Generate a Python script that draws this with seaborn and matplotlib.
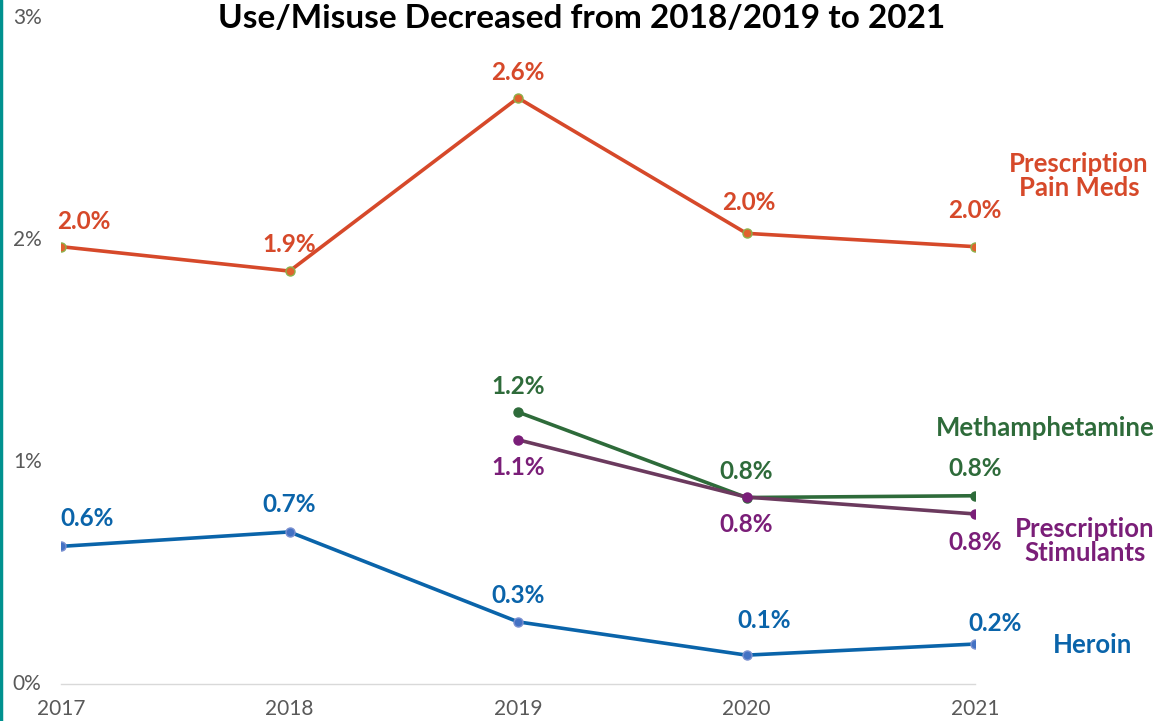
import matplotlib
matplotlib.use("Agg")
import matplotlib.pyplot as plt
import seaborn as sns
import pandas as pd
import numpy as np

years = [2017, 2018, 2019, 2020, 2021]
pain_meds = [1.97, 1.86, 2.64, 2.03, 1.97]
meth = [np.nan, np.nan, 1.225, 0.84, 0.848]
stimulants = [np.nan, np.nan, 1.10, 0.842, 0.766]
heroin = [0.62, 0.685, 0.28, 0.13, 0.18]
series_names = ["Prescription\nPain Meds", "Methamphetamine", "Prescription\nStimulants", "Heroin"]
title = "Use/Misuse Decreased from 2018/2019 to 2021"
ytick_vals = [0, 1, 2, 3]

sns.set_theme(style="white")
plt.rcParams['font.family'] = ['Lato', 'DejaVu Sans']

fig = plt.figure(figsize=(11.66, 7.21), dpi=100)
ax = fig.add_axes([61/1166, 37/721, (975-61)/1166, (684-18)/721])

rows = []
for name, vals in zip(series_names, [pain_meds, meth, stimulants, heroin]):
    for y, v in zip(years, vals):
        rows.append({"year": y, "value": v, "series": name})
df = pd.DataFrame(rows).dropna()

line_colors = ["#D6492A", "#2E6B3A", "#6B3A5E", "#0A64AA"]
marker_face = ["#E0622E", "#2E6B3A", "#7A1E78", "#4472C4"]
marker_edge = ["#8DB04A", "#2E6B3A", "#7A1E78", "#7A90D0"]
text_colors = ["#D6492A", "#2E6B3A", "#7A1E78", "#0A64AA"]

for i, name in enumerate(series_names):
    sub = df[df.series == name]
    sns.lineplot(data=sub, x="year", y="value", ax=ax, color=line_colors[i],
                 linewidth=2.6, marker="o", markersize=6.5,
                 markerfacecolor=marker_face[i], markeredgecolor=marker_edge[i],
                 markeredgewidth=1.0, legend=False, zorder=3 + i)

# data-label offsets in pixels (dx, dy) relative to each point
offsets = {
    0: [(23, 25), (0, 27), (0, 25), (2, 31), (0, 36)],
    1: [None, None, (0, 26), (0, 26), (0, 27)],
    2: [None, None, (0, -28), (0, -27), (0, -29)],
    3: [(26, 28), (0, 27), (0, 26), (18, 35), (20, 21)],
}
for i, vals in enumerate([pain_meds, meth, stimulants, heroin]):
    for j, (yr, v) in enumerate(zip(years, vals)):
        if np.isnan(v):
            continue
        dx, dy = offsets[i][j]
        ax.annotate(f"{v:.1f}%", (yr, v), xytext=(dx, dy), textcoords="offset pixels",
                    ha="center", va="center", fontsize=17.5, fontweight="bold",
                    color=text_colors[i], zorder=10)

# series name labels (figure pixel positions)
name_pos = [(1079, 176), (1045, 428), (1085, 541), (1093, 645)]
for i, name in enumerate(series_names):
    fig.text(name_pos[i][0] / 1166, 1 - name_pos[i][1] / 721, name, ha="center", va="center",
             fontsize=18.5, fontweight="bold", color=text_colors[i], linespacing=1.0)

ax.set_xlim(2017, 2021)
ax.set_ylim(0, 3)
ax.set_xticks(years)
ax.set_xticklabels([str(y) for y in years])
ax.set_yticks(ytick_vals)
ax.set_yticklabels([f"{v}%" for v in ytick_vals])
ax.tick_params(axis="both", labelsize=15, colors="#595959", length=0)
ax.tick_params(axis="x", pad=11)
ax.tick_params(axis="y", pad=14)
for lbl in ax.get_yticklabels():
    lbl.set_verticalalignment("center")
for s in ["top", "right", "left"]:
    ax.spines[s].set_visible(False)
ax.spines["bottom"].set_color("#D9D9D9")
ax.spines["bottom"].set_linewidth(1.0)
ax.set_xlabel("")
ax.set_ylabel("")
ax.grid(False)
ax.patch.set_alpha(0)

fig.text(582 / 1166, 1 - 18 / 721, title, ha="center", va="center",
         fontsize=24, fontweight="bold", color="black")

# teal left border
fig.add_artist(plt.Line2D([0.001, 0.001], [0, 1], color="#00918F", linewidth=2.5,
                          transform=fig.transFigure))

fig.savefig("out.png", dpi=100)
